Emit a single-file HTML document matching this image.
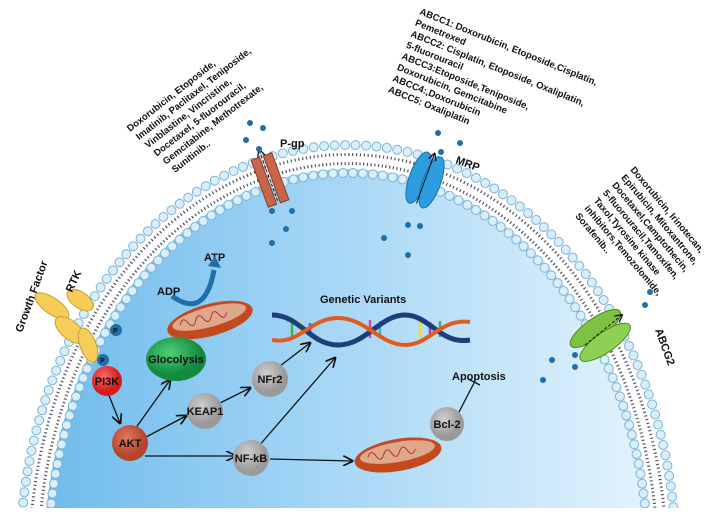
<!DOCTYPE html>
<html><head><meta charset="utf-8"><style>
html,body{margin:0;background:#fff;width:708px;height:521px;overflow:hidden}
svg{display:block}
text{font-family:"Liberation Sans",sans-serif;font-weight:bold;fill:#111}
</style></head><body>
<svg width="708" height="521" viewBox="0 0 708 521">
<defs>
<linearGradient id="cellg" x1="0" x2="1" y1="0" y2="0">
<stop offset="0" stop-color="#6fbbec"/><stop offset="0.5" stop-color="#a9d8f6"/><stop offset="1" stop-color="#e4f3fc"/></linearGradient>
<radialGradient id="red" cx="0.4" cy="0.35"><stop offset="0" stop-color="#ff6a6a"/><stop offset="1" stop-color="#d41c1c"/></radialGradient>
<radialGradient id="grn" cx="0.4" cy="0.35"><stop offset="0" stop-color="#4fd07a"/><stop offset="1" stop-color="#138a3e"/></radialGradient>
<radialGradient id="gry" cx="0.4" cy="0.35"><stop offset="0" stop-color="#cfcfcf"/><stop offset="1" stop-color="#9a9a9a"/></radialGradient>
<radialGradient id="akt" cx="0.4" cy="0.35"><stop offset="0" stop-color="#e07a5e"/><stop offset="1" stop-color="#b4452c"/></radialGradient>
<marker id="ah" markerWidth="8" markerHeight="8" refX="7" refY="4" orient="auto"><path d="M0,0 L8,4 L0,8" fill="none" stroke="#111" stroke-width="1.3"/></marker>
<clipPath id="clipb"><rect x="0" y="0" width="708" height="508"/></clipPath>
</defs>
<g clip-path="url(#clipb)">
<ellipse cx="348" cy="560" rx="305" ry="392" fill="url(#cellg)"/>
<g>
<ellipse cx="348" cy="560" rx="314" ry="401" fill="none" stroke="#fff" stroke-width="20"/>
<ellipse cx="348" cy="560" rx="314" ry="401" fill="none" stroke="#556" stroke-width="12" stroke-dasharray="1.2 2.6"/>
<ellipse cx="348" cy="560" rx="314" ry="401" fill="none" stroke="#fff" stroke-width="6"/>
<ellipse cx="348" cy="560" rx="328" ry="415" fill="none" stroke="#7fb3d3" stroke-width="10" stroke-linecap="round" stroke-dasharray="0 10.5"/>
<ellipse cx="348" cy="560" rx="328" ry="415" fill="none" stroke="#d8eefb" stroke-width="8" stroke-linecap="round" stroke-dasharray="0 10.5"/>
<ellipse cx="348" cy="560" rx="300" ry="387" fill="none" stroke="#7fb3d3" stroke-width="10" stroke-linecap="round" stroke-dasharray="0 10"/>
<ellipse cx="348" cy="560" rx="300" ry="387" fill="none" stroke="#d8eefb" stroke-width="8" stroke-linecap="round" stroke-dasharray="0 10"/>
</g>
</g>
<g transform="translate(270,180) rotate(-20)">
<rect x="-11" y="-25" width="9" height="50" fill="#c8664a" stroke="#8a3b28"/>
<rect x="2" y="-25" width="9" height="50" fill="#c8664a" stroke="#8a3b28"/>
<line x1="0" y1="22" x2="0" y2="-32" stroke="#111" stroke-dasharray="3 2" marker-end="url(#ah)"/>
</g>
<text x="280" y="147" font-size="11">P-gp</text>
<g transform="translate(425,180) rotate(20)">
<ellipse cx="-7" cy="0" rx="9" ry="27" fill="#2c9ee0" stroke="#1a6fa8"/>
<ellipse cx="7" cy="0" rx="9" ry="27" fill="#2c9ee0" stroke="#1a6fa8"/>
<line x1="0" y1="25" x2="0" y2="-28" stroke="#111" marker-end="url(#ah)"/>
</g>
<text x="455" y="163" font-size="11" transform="rotate(20 455 163)">MRP</text>
<g transform="translate(600,335) rotate(55)">
<ellipse cx="-8" cy="0" rx="10" ry="30" fill="#7dc242" stroke="#4a8a22"/>
<ellipse cx="9" cy="0" rx="10" ry="30" fill="#8fd052" stroke="#4a8a22"/>
</g>
<line x1="585" y1="345" x2="622" y2="315" stroke="#111" stroke-dasharray="3 2" marker-end="url(#ah)"/>
<text x="655" y="330" font-size="11" transform="rotate(70 655 330)">ABCG2</text>
<g fill="#1f6fa8">
<circle cx="250" cy="123" r="3"/><circle cx="263" cy="128" r="3"/><circle cx="246" cy="140" r="3"/><circle cx="259" cy="149" r="3"/>
<circle cx="272" cy="211" r="3"/><circle cx="292" cy="211" r="3"/><circle cx="286" cy="229" r="3"/><circle cx="272" cy="243" r="3"/>
<circle cx="438" cy="133" r="3"/><circle cx="460" cy="143" r="3"/><circle cx="441" cy="152" r="3"/>
<circle cx="408" cy="225" r="3"/><circle cx="420" cy="226" r="3"/><circle cx="384" cy="238" r="3"/><circle cx="408" cy="255" r="3"/>
<circle cx="650" cy="292" r="3"/><circle cx="645" cy="305" r="3"/><circle cx="575" cy="355" r="3"/><circle cx="552" cy="360" r="3"/><circle cx="575" cy="367" r="3"/><circle cx="543" cy="380" r="3"/>
</g>
<g>
<ellipse cx="52" cy="306" rx="20" ry="8" transform="rotate(35 52 306)" fill="#f7cd5a" stroke="#c9a030"/>
<ellipse cx="80" cy="300" rx="15" ry="8" transform="rotate(35 80 300)" fill="#f7cd5a" stroke="#c9a030"/>
<ellipse cx="70" cy="330" rx="18" ry="9" transform="rotate(40 70 330)" fill="#f7cd5a" stroke="#c9a030"/>
<ellipse cx="88" cy="345" rx="18" ry="8" transform="rotate(70 88 345)" fill="#f7cd5a" stroke="#c9a030"/>
<circle cx="116" cy="330" r="6" fill="#1f6fa8"/><text x="113" y="333" font-size="7">P</text>
<circle cx="103" cy="360" r="6" fill="#1f6fa8"/><text x="100" y="363" font-size="7">P</text>
</g>
<text x="22" y="333" font-size="11" transform="rotate(-70 22 333)">Growth Factor</text>
<text x="72" y="293" font-size="11" transform="rotate(-65 72 293)">RTK</text>
<g font-size="9.5" transform="translate(130,132) rotate(-38)">
<text x="0" y="0">Doxorubicin, Etoposide,</text>
<text x="2" y="12">Imatinib, Paclitaxel, Teniposide,</text>
<text x="4" y="24">Vinblastine, Vincristine,</text>
<text x="6" y="36">Docetaxel,  5-fluorouracil,</text>
<text x="8" y="48">Gemcitabine, Methotrexate,</text>
<text x="10" y="60">Sunitinib..</text>
</g>
<g font-size="9.5" transform="translate(419,14) rotate(22)">
<text x="0" y="0">ABCC1: Doxorubicin,  Etoposide,Cisplatin,</text>
<text x="0" y="12">Pemetrexed</text>
<text x="0" y="24">ABCC2: Cisplatin, Etoposide, Oxaliplatin,</text>
<text x="0" y="36">5-fluorouracil</text>
<text x="0" y="48">ABCC3:Etoposide,Teniposide,</text>
<text x="0" y="60">Doxorubicin, Gemcitabine</text>
<text x="0" y="72">ABCC4:,Doxorubicin</text>
<text x="0" y="84">ABCC5: Oxaliplatin</text>
</g>
<g font-size="9.5" transform="translate(630,170) rotate(50)">
<text x="0" y="0">Doxorubicin, Irinotecan,</text>
<text x="0" y="12">Epirubicin, Mitoxantrone,</text>
<text x="0" y="24">Docetaxel,Camptothecin,</text>
<text x="0" y="36">5-fluorouracil,Tamoxifen,</text>
<text x="0" y="48">Taxol,Tyrosine kinase</text>
<text x="0" y="60">inhibitors,Temozolomide,</text>
<text x="0" y="72">Sorafenib..</text>
</g>
<text x="157" y="295" font-size="11">ADP</text>
<text x="204" y="261" font-size="11">ATP</text>
<path d="M172,296 Q205,320 214,270" fill="none" stroke="#1f6fa8" stroke-width="5"/>
<path d="M208,266 L215,256 L221,268 Z" fill="#1f6fa8"/>
<g transform="translate(210,320) rotate(-15)">
<ellipse cx="0" cy="0" rx="44" ry="16" fill="#c34a1e"/><ellipse cx="0" cy="-3" rx="38" ry="10" fill="#e0a78a"/>
<path d="M-30,-3 q4,-8 8,0 q4,8 8,0 q4,-8 8,0 q4,8 8,0 q4,-8 8,0 q4,8 8,0" fill="none" stroke="#a33"/>
</g>
<g transform="translate(398,455) rotate(-10)">
<ellipse cx="0" cy="0" rx="44" ry="16" fill="#c34a1e"/><ellipse cx="0" cy="-3" rx="38" ry="10" fill="#e0a78a"/>
<path d="M-30,-3 q4,-8 8,0 q4,8 8,0 q4,-8 8,0 q4,8 8,0 q4,-8 8,0 q4,8 8,0" fill="none" stroke="#a33"/>
</g>
<g>
<g stroke-width="2.5">
<line x1="292" y1="320" x2="292" y2="338" stroke="#3cb44b"/><line x1="300" y1="322" x2="300" y2="336" stroke="#f0e020"/>
<line x1="370" y1="320" x2="370" y2="338" stroke="#e040a0"/><line x1="380" y1="321" x2="380" y2="337" stroke="#3cb4d0"/>
<line x1="420" y1="320" x2="420" y2="338" stroke="#f0e020"/><line x1="430" y1="322" x2="430" y2="336" stroke="#a040c0"/>
<line x1="440" y1="321" x2="440" y2="337" stroke="#3cb44b"/><line x1="310" y1="323" x2="310" y2="335" stroke="#3c60d0"/>
</g>
<path d="M272,315 C300,315 310,345 338,345 C366,345 380,315 405,315 C430,315 440,345 470,340" fill="none" stroke="#1b3f7a" stroke-width="5"/>
<path d="M272,340 C300,345 310,318 338,318 C366,318 380,345 405,345 C430,345 440,318 470,322" fill="none" stroke="#e35a1e" stroke-width="4"/>
</g>
<text x="320" y="303" font-size="11">Genetic Variants</text>
<g stroke="#111" stroke-width="1.3" fill="none">
<line x1="108" y1="393" x2="120" y2="423" marker-end="url(#ah)"/>
<line x1="135" y1="429" x2="170" y2="380" marker-end="url(#ah)"/>
<line x1="146" y1="437" x2="186" y2="416" marker-end="url(#ah)"/>
<line x1="218" y1="404" x2="250" y2="388" marker-end="url(#ah)"/>
<line x1="280" y1="366" x2="310" y2="343" marker-end="url(#ah)"/>
<line x1="145" y1="456" x2="235" y2="456" marker-end="url(#ah)"/>
<line x1="258" y1="447" x2="335" y2="358" marker-end="url(#ah)"/>
<line x1="270" y1="459" x2="352" y2="461" marker-end="url(#ah)"/>
<line x1="458" y1="414" x2="474" y2="383"/>
<line x1="468" y1="379" x2="480" y2="385"/>
</g>
<g><circle cx="107" cy="381" r="15" fill="url(#red)"/><text x="107" y="385" font-size="11" text-anchor="middle">PI3K</text></g>
<g><ellipse cx="176" cy="359" rx="30" ry="22" fill="url(#grn)"/><text x="176" y="363" font-size="11" text-anchor="middle">Glocolysis</text></g>
<g><circle cx="130" cy="443" r="18" fill="url(#akt)"/><text x="130" y="447" font-size="11" text-anchor="middle">AKT</text></g>
<g><circle cx="205" cy="411" r="18" fill="url(#gry)"/><text x="205" y="415" font-size="11" text-anchor="middle">KEAP1</text></g>
<g><circle cx="270" cy="379" r="18" fill="url(#gry)"/><text x="270" y="383" font-size="11" text-anchor="middle">NFr2</text></g>
<g><circle cx="251" cy="458" r="18" fill="url(#gry)"/><text x="251" y="462" font-size="11" text-anchor="middle">NF-kB</text></g>
<g><circle cx="447" cy="424" r="17" fill="url(#gry)"/><text x="447" y="428" font-size="11" text-anchor="middle">Bcl-2</text></g>
<text x="452" y="380" font-size="11" font-weight="normal">Apoptosis</text>
</svg>
</body></html>
